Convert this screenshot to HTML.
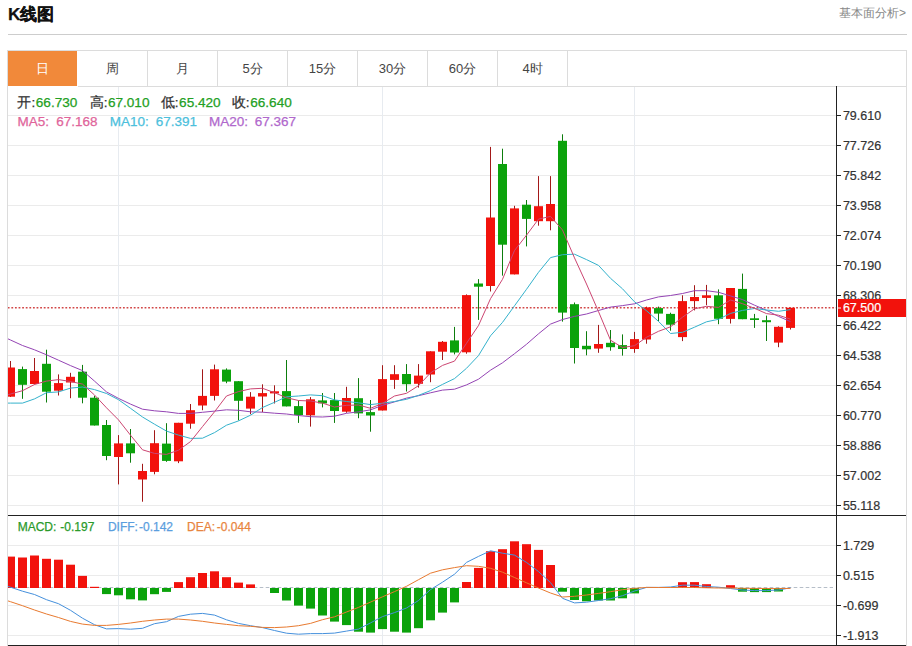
<!DOCTYPE html>
<html><head><meta charset="utf-8"><style>
html,body{margin:0;padding:0;background:#fff;}
body{width:912px;height:646px;position:relative;overflow:hidden;font-family:"Liberation Sans",sans-serif;}
.t{position:absolute;left:8px;top:3px;font-size:17.2px;font-weight:bold;color:#111;line-height:22px;-webkit-text-stroke:0.25px #111;}
.lk{position:absolute;left:839px;top:5px;font-size:12px;color:#888;line-height:16px;white-space:nowrap;}
.ln{position:absolute;background:#dcdcdc;}
.tab{position:absolute;top:51px;height:35px;width:69px;text-align:center;line-height:35px;font-size:13px;color:#444;}
.tab.on{background:#f1893a;color:#fff;width:69px;}
svg{position:absolute;left:0;top:0;}
svg text{font-family:"Liberation Sans",sans-serif;}
.al{font-size:12.5px;fill:#333;stroke:#333;stroke-width:0.2px;}
</style></head><body>
<div class="t">K线图</div>
<div class="lk">基本面分析&gt;</div>
<div class="ln" style="left:8px;top:34px;width:899px;height:1px;background:#cdcdcd"></div>
<div class="ln" style="left:8px;top:50px;width:899px;height:1px"></div>
<div class="ln" style="left:78px;top:86px;width:828px;height:1px"></div>
<div class="ln" style="left:7px;top:50px;width:1px;height:596px"></div>
<div class="ln" style="left:906px;top:50px;width:1px;height:596px"></div>
<div class="tab on" style="left:8px">日</div>
<div class="tab" style="left:78px">周</div>
<div class="ln" style="left:147px;top:51px;width:1px;height:35px"></div>
<div class="tab" style="left:148px">月</div>
<div class="ln" style="left:217px;top:51px;width:1px;height:35px"></div>
<div class="tab" style="left:218px">5分</div>
<div class="ln" style="left:287px;top:51px;width:1px;height:35px"></div>
<div class="tab" style="left:288px">15分</div>
<div class="ln" style="left:357px;top:51px;width:1px;height:35px"></div>
<div class="tab" style="left:358px">30分</div>
<div class="ln" style="left:427px;top:51px;width:1px;height:35px"></div>
<div class="tab" style="left:428px">60分</div>
<div class="ln" style="left:497px;top:51px;width:1px;height:35px"></div>
<div class="tab" style="left:498px">4时</div>
<div class="ln" style="left:567px;top:51px;width:1px;height:35px"></div>
<svg width="912" height="646" viewBox="0 0 912 646">
<defs><clipPath id="cp"><rect x="8" y="87" width="828.5" height="558"/></clipPath></defs>
<g clip-path="url(#cp)">
<line x1="8" y1="115.5" x2="836" y2="115.5" stroke="#ebebeb" stroke-width="1"/>
<line x1="8" y1="145.5" x2="836" y2="145.5" stroke="#ebebeb" stroke-width="1"/>
<line x1="8" y1="175.5" x2="836" y2="175.5" stroke="#ebebeb" stroke-width="1"/>
<line x1="8" y1="205.5" x2="836" y2="205.5" stroke="#ebebeb" stroke-width="1"/>
<line x1="8" y1="235.5" x2="836" y2="235.5" stroke="#ebebeb" stroke-width="1"/>
<line x1="8" y1="265.5" x2="836" y2="265.5" stroke="#ebebeb" stroke-width="1"/>
<line x1="8" y1="295.5" x2="836" y2="295.5" stroke="#ebebeb" stroke-width="1"/>
<line x1="8" y1="325.5" x2="836" y2="325.5" stroke="#ebebeb" stroke-width="1"/>
<line x1="8" y1="355.5" x2="836" y2="355.5" stroke="#ebebeb" stroke-width="1"/>
<line x1="8" y1="385.5" x2="836" y2="385.5" stroke="#ebebeb" stroke-width="1"/>
<line x1="8" y1="415.5" x2="836" y2="415.5" stroke="#ebebeb" stroke-width="1"/>
<line x1="8" y1="445.5" x2="836" y2="445.5" stroke="#ebebeb" stroke-width="1"/>
<line x1="8" y1="475.5" x2="836" y2="475.5" stroke="#ebebeb" stroke-width="1"/>
<line x1="8" y1="505.5" x2="836" y2="505.5" stroke="#ebebeb" stroke-width="1"/>
<line x1="8" y1="545.5" x2="836" y2="545.5" stroke="#ebebeb" stroke-width="1"/>
<line x1="8" y1="575.5" x2="836" y2="575.5" stroke="#ebebeb" stroke-width="1"/>
<line x1="8" y1="605.5" x2="836" y2="605.5" stroke="#ebebeb" stroke-width="1"/>
<line x1="8" y1="635.5" x2="836" y2="635.5" stroke="#ebebeb" stroke-width="1"/>
<line x1="118.5" y1="86" x2="118.5" y2="645" stroke="#e7ebf0" stroke-width="1"/>
<line x1="382.5" y1="86" x2="382.5" y2="645" stroke="#e7ebf0" stroke-width="1"/>
<line x1="634.5" y1="86" x2="634.5" y2="645" stroke="#e7ebf0" stroke-width="1"/>
<line x1="7.76" y1="307.8" x2="836" y2="307.8" stroke="#d24848" stroke-width="1.4" stroke-dasharray="1.8,1.8"/>
<rect x="10.0" y="361.0" width="1" height="36.0" fill="#a31818"/>
<rect x="6.0" y="367.5" width="9" height="29.2" fill="#f2120c"/>
<rect x="22.0" y="366.6" width="1" height="32.2" fill="#0d7d0d"/>
<rect x="18.0" y="369.1" width="9" height="15.7" fill="#0ba20b"/>
<rect x="34.0" y="358.0" width="1" height="26.5" fill="#a31818"/>
<rect x="30.0" y="371.0" width="9" height="13.0" fill="#f2120c"/>
<rect x="46.0" y="349.7" width="1" height="52.8" fill="#0d7d0d"/>
<rect x="42.0" y="363.8" width="9" height="27.9" fill="#0ba20b"/>
<rect x="58.0" y="374.4" width="1" height="21.1" fill="#a31818"/>
<rect x="54.0" y="383.1" width="9" height="7.6" fill="#f2120c"/>
<rect x="70.0" y="372.8" width="1" height="25.4" fill="#a31818"/>
<rect x="66.0" y="376.8" width="9" height="5.7" fill="#f2120c"/>
<rect x="82.0" y="364.9" width="1" height="38.4" fill="#0d7d0d"/>
<rect x="78.0" y="371.7" width="9" height="26.0" fill="#0ba20b"/>
<rect x="94.0" y="395.9" width="1" height="29.6" fill="#0d7d0d"/>
<rect x="90.0" y="397.7" width="9" height="27.8" fill="#0ba20b"/>
<rect x="106.0" y="420.0" width="1" height="40.2" fill="#0d7d0d"/>
<rect x="102.0" y="425.0" width="9" height="31.0" fill="#0ba20b"/>
<rect x="118.0" y="435.1" width="1" height="49.3" fill="#a31818"/>
<rect x="114.0" y="443.4" width="9" height="13.6" fill="#f2120c"/>
<rect x="130.0" y="429.0" width="1" height="33.7" fill="#0d7d0d"/>
<rect x="126.0" y="443.4" width="9" height="9.9" fill="#0ba20b"/>
<rect x="142.0" y="463.8" width="1" height="37.9" fill="#a31818"/>
<rect x="138.0" y="471.0" width="9" height="8.5" fill="#f2120c"/>
<rect x="154.0" y="430.2" width="1" height="44.1" fill="#a31818"/>
<rect x="150.0" y="443.2" width="9" height="28.7" fill="#f2120c"/>
<rect x="166.0" y="423.2" width="1" height="38.6" fill="#0d7d0d"/>
<rect x="162.0" y="443.6" width="9" height="17.3" fill="#0ba20b"/>
<rect x="178.0" y="422.8" width="1" height="40.3" fill="#a31818"/>
<rect x="174.0" y="422.8" width="9" height="38.5" fill="#f2120c"/>
<rect x="190.0" y="404.0" width="1" height="24.7" fill="#a31818"/>
<rect x="186.0" y="410.2" width="9" height="13.5" fill="#f2120c"/>
<rect x="202.0" y="369.3" width="1" height="40.9" fill="#a31818"/>
<rect x="198.0" y="395.9" width="9" height="9.6" fill="#f2120c"/>
<rect x="214.0" y="364.6" width="1" height="35.9" fill="#a31818"/>
<rect x="210.0" y="369.3" width="9" height="26.6" fill="#f2120c"/>
<rect x="226.0" y="368.4" width="1" height="14.8" fill="#0d7d0d"/>
<rect x="222.0" y="369.6" width="9" height="12.0" fill="#0ba20b"/>
<rect x="238.0" y="381.2" width="1" height="39.2" fill="#0d7d0d"/>
<rect x="234.0" y="381.2" width="9" height="19.6" fill="#0ba20b"/>
<rect x="250.0" y="392.1" width="1" height="22.1" fill="#a31818"/>
<rect x="246.0" y="396.7" width="9" height="11.9" fill="#f2120c"/>
<rect x="262.0" y="384.3" width="1" height="27.9" fill="#a31818"/>
<rect x="258.0" y="393.1" width="9" height="3.4" fill="#f2120c"/>
<rect x="274.0" y="385.3" width="1" height="18.2" fill="#a31818"/>
<rect x="270.0" y="391.3" width="9" height="2.1" fill="#f2120c"/>
<rect x="286.0" y="360.0" width="1" height="46.4" fill="#0d7d0d"/>
<rect x="282.0" y="391.1" width="9" height="15.3" fill="#0ba20b"/>
<rect x="298.0" y="400.4" width="1" height="22.5" fill="#0d7d0d"/>
<rect x="294.0" y="406.1" width="9" height="8.9" fill="#0ba20b"/>
<rect x="310.0" y="397.1" width="1" height="29.5" fill="#a31818"/>
<rect x="306.0" y="399.3" width="9" height="16.0" fill="#f2120c"/>
<rect x="322.0" y="393.0" width="1" height="14.4" fill="#0d7d0d"/>
<rect x="318.0" y="400.4" width="9" height="3.0" fill="#0ba20b"/>
<rect x="334.0" y="393.0" width="1" height="29.9" fill="#0d7d0d"/>
<rect x="330.0" y="400.1" width="9" height="10.9" fill="#0ba20b"/>
<rect x="346.0" y="386.8" width="1" height="26.0" fill="#a31818"/>
<rect x="342.0" y="398.0" width="9" height="13.7" fill="#f2120c"/>
<rect x="358.0" y="378.1" width="1" height="40.1" fill="#0d7d0d"/>
<rect x="354.0" y="398.2" width="9" height="15.2" fill="#0ba20b"/>
<rect x="370.0" y="400.0" width="1" height="31.7" fill="#0d7d0d"/>
<rect x="366.0" y="412.1" width="9" height="3.4" fill="#0ba20b"/>
<rect x="382.0" y="365.2" width="1" height="45.3" fill="#a31818"/>
<rect x="378.0" y="379.1" width="9" height="31.4" fill="#f2120c"/>
<rect x="394.0" y="365.2" width="1" height="23.7" fill="#a31818"/>
<rect x="390.0" y="374.2" width="9" height="5.7" fill="#f2120c"/>
<rect x="406.0" y="364.1" width="1" height="27.4" fill="#0d7d0d"/>
<rect x="402.0" y="374.0" width="9" height="10.2" fill="#0ba20b"/>
<rect x="418.0" y="364.1" width="1" height="23.5" fill="#a31818"/>
<rect x="414.0" y="375.6" width="9" height="8.2" fill="#f2120c"/>
<rect x="430.0" y="351.3" width="1" height="30.9" fill="#a31818"/>
<rect x="426.0" y="351.3" width="9" height="23.2" fill="#f2120c"/>
<rect x="442.0" y="341.0" width="1" height="19.0" fill="#a31818"/>
<rect x="438.0" y="341.8" width="9" height="9.9" fill="#f2120c"/>
<rect x="454.0" y="326.9" width="1" height="27.5" fill="#0d7d0d"/>
<rect x="450.0" y="340.4" width="9" height="12.1" fill="#0ba20b"/>
<rect x="466.0" y="294.4" width="1" height="59.3" fill="#a31818"/>
<rect x="462.0" y="295.1" width="9" height="57.2" fill="#f2120c"/>
<rect x="478.0" y="279.1" width="1" height="40.8" fill="#0d7d0d"/>
<rect x="474.0" y="283.5" width="9" height="3.2" fill="#0ba20b"/>
<rect x="490.0" y="146.9" width="1" height="144.6" fill="#a31818"/>
<rect x="486.0" y="217.5" width="9" height="68.5" fill="#f2120c"/>
<rect x="502.0" y="148.7" width="1" height="126.9" fill="#0d7d0d"/>
<rect x="498.0" y="164.0" width="9" height="80.7" fill="#0ba20b"/>
<rect x="514.0" y="205.8" width="1" height="68.6" fill="#a31818"/>
<rect x="510.0" y="208.4" width="9" height="66.0" fill="#f2120c"/>
<rect x="526.0" y="200.0" width="1" height="46.4" fill="#0d7d0d"/>
<rect x="522.0" y="204.7" width="9" height="14.2" fill="#0ba20b"/>
<rect x="538.0" y="176.1" width="1" height="49.6" fill="#a31818"/>
<rect x="534.0" y="206.2" width="9" height="15.0" fill="#f2120c"/>
<rect x="550.0" y="176.1" width="1" height="54.2" fill="#a31818"/>
<rect x="546.0" y="204.0" width="9" height="17.2" fill="#f2120c"/>
<rect x="562.0" y="134.3" width="1" height="187.3" fill="#0d7d0d"/>
<rect x="558.0" y="140.8" width="9" height="171.8" fill="#0ba20b"/>
<rect x="574.0" y="302.5" width="1" height="61.0" fill="#0d7d0d"/>
<rect x="570.0" y="304.2" width="9" height="43.8" fill="#0ba20b"/>
<rect x="586.0" y="331.2" width="1" height="24.1" fill="#0d7d0d"/>
<rect x="582.0" y="345.8" width="9" height="3.5" fill="#0ba20b"/>
<rect x="598.0" y="324.9" width="1" height="27.9" fill="#a31818"/>
<rect x="594.0" y="344.0" width="9" height="4.6" fill="#f2120c"/>
<rect x="610.0" y="330.0" width="1" height="20.7" fill="#0d7d0d"/>
<rect x="606.0" y="342.8" width="9" height="4.4" fill="#0ba20b"/>
<rect x="622.0" y="334.4" width="1" height="21.2" fill="#0d7d0d"/>
<rect x="618.0" y="345.1" width="9" height="3.9" fill="#0ba20b"/>
<rect x="634.0" y="331.9" width="1" height="20.9" fill="#a31818"/>
<rect x="630.0" y="339.1" width="9" height="9.9" fill="#f2120c"/>
<rect x="646.0" y="306.6" width="1" height="37.1" fill="#a31818"/>
<rect x="642.0" y="307.4" width="9" height="32.1" fill="#f2120c"/>
<rect x="658.0" y="306.6" width="1" height="14.6" fill="#0d7d0d"/>
<rect x="654.0" y="308.1" width="9" height="5.5" fill="#0ba20b"/>
<rect x="670.0" y="312.7" width="1" height="18.0" fill="#0d7d0d"/>
<rect x="666.0" y="313.9" width="9" height="10.8" fill="#0ba20b"/>
<rect x="682.0" y="295.3" width="1" height="45.8" fill="#a31818"/>
<rect x="678.0" y="301.1" width="9" height="36.0" fill="#f2120c"/>
<rect x="694.0" y="285.2" width="1" height="25.2" fill="#a31818"/>
<rect x="690.0" y="297.0" width="9" height="4.1" fill="#f2120c"/>
<rect x="706.0" y="284.9" width="1" height="20.3" fill="#a31818"/>
<rect x="702.0" y="295.3" width="9" height="2.6" fill="#f2120c"/>
<rect x="718.0" y="289.4" width="1" height="34.8" fill="#0d7d0d"/>
<rect x="714.0" y="295.3" width="9" height="23.5" fill="#0ba20b"/>
<rect x="730.0" y="288.0" width="1" height="35.5" fill="#a31818"/>
<rect x="726.0" y="288.0" width="9" height="30.9" fill="#f2120c"/>
<rect x="742.0" y="273.6" width="1" height="45.6" fill="#0d7d0d"/>
<rect x="738.0" y="288.9" width="9" height="30.3" fill="#0ba20b"/>
<rect x="754.0" y="313.9" width="1" height="14.0" fill="#0d7d0d"/>
<rect x="750.0" y="318.3" width="9" height="1.7" fill="#0ba20b"/>
<rect x="766.0" y="315.6" width="1" height="25.4" fill="#0d7d0d"/>
<rect x="762.0" y="320.2" width="9" height="2.0" fill="#0ba20b"/>
<rect x="778.0" y="326.2" width="1" height="21.0" fill="#a31818"/>
<rect x="774.0" y="326.8" width="9" height="15.8" fill="#f2120c"/>
<rect x="790.0" y="307.8" width="1" height="21.7" fill="#a31818"/>
<rect x="786.0" y="307.8" width="9" height="20.1" fill="#f2120c"/>
<polyline points="-1.5,334.5 10.5,340.0 22.5,345.5 34.5,349.8 46.5,354.8 58.5,360.2 70.5,365.6 82.5,370.6 94.5,381.1 106.5,391.9 118.5,398.4 130.5,404.1 142.5,409.2 154.5,410.8 166.5,411.8 178.5,413.4 190.5,413.4 202.5,412.3 214.5,411.1 226.5,409.8 238.5,410.3 250.5,411.8 262.5,412.2 274.5,413.2 286.5,414.0 298.5,415.5 310.5,416.7 322.5,417.0 334.5,416.2 346.5,413.3 358.5,411.8 370.5,409.9 382.5,405.3 394.5,401.9 406.5,398.1 418.5,395.7 430.5,392.8 442.5,390.1 454.5,389.2 466.5,384.9 478.5,379.2 490.5,370.2 502.5,362.8 514.5,353.7 526.5,344.3 538.5,333.8 550.5,324.1 562.5,319.5 574.5,316.4 586.5,314.0 598.5,310.5 610.5,307.1 622.5,305.6 634.5,303.8 646.5,300.0 658.5,296.9 670.5,295.5 682.5,293.5 694.5,290.7 706.5,290.7 718.5,292.3 730.5,295.9 742.5,299.6 754.5,305.2 766.5,310.3 778.5,316.4 790.5,321.6" fill="none" stroke="#9444b4" stroke-width="1.0" stroke-linejoin="round"/>
<polyline points="-1.5,403.1 10.5,403.1 22.5,403.1 34.5,398.9 46.5,392.7 58.5,391.9 70.5,388.1 82.5,387.0 94.5,389.6 106.5,393.5 118.5,399.7 130.5,408.3 142.5,417.0 154.5,424.2 166.5,431.1 178.5,435.1 190.5,438.4 202.5,438.2 214.5,432.6 226.5,425.2 238.5,420.9 250.5,415.2 262.5,407.5 274.5,402.3 286.5,396.8 298.5,396.0 310.5,394.9 322.5,395.7 334.5,399.9 346.5,401.5 358.5,402.8 370.5,404.6 382.5,403.2 394.5,401.5 406.5,399.3 418.5,395.4 430.5,390.6 442.5,384.4 454.5,378.6 466.5,368.3 478.5,355.6 490.5,335.8 502.5,322.4 514.5,305.8 526.5,289.3 538.5,272.3 550.5,257.6 562.5,254.7 574.5,254.2 586.5,259.6 598.5,265.4 610.5,278.3 622.5,288.8 634.5,301.8 646.5,310.7 658.5,321.4 670.5,333.5 682.5,332.3 694.5,327.2 706.5,321.8 718.5,319.3 730.5,313.4 742.5,310.4 754.5,308.5 766.5,310.0 778.5,311.3 790.5,309.6" fill="none" stroke="#34b2cc" stroke-width="1.0" stroke-linejoin="round"/>
<polyline points="-1.5,397.3 10.5,394.0 22.5,390.7 34.5,384.5 46.5,381.1 58.5,379.6 70.5,381.5 82.5,384.1 94.5,395.0 106.5,407.8 118.5,419.9 130.5,435.2 142.5,449.8 154.5,453.4 166.5,454.4 178.5,450.2 190.5,441.6 202.5,426.6 214.5,411.8 226.5,396.0 238.5,391.6 250.5,388.9 262.5,388.3 274.5,392.7 286.5,397.7 298.5,400.5 310.5,401.0 322.5,403.1 334.5,407.0 346.5,405.3 358.5,405.0 370.5,408.3 382.5,403.4 394.5,396.0 406.5,393.3 418.5,385.7 430.5,372.9 442.5,365.4 454.5,361.1 466.5,343.3 478.5,325.5 490.5,298.7 502.5,279.3 514.5,250.5 526.5,235.2 538.5,219.1 550.5,216.4 562.5,230.0 574.5,257.9 586.5,284.0 598.5,311.6 610.5,340.2 622.5,347.5 634.5,345.7 646.5,337.3 658.5,331.3 670.5,326.8 682.5,317.2 694.5,308.8 706.5,306.3 718.5,307.4 730.5,300.0 742.5,303.7 754.5,308.3 766.5,313.6 778.5,315.2 790.5,319.2" fill="none" stroke="#cc4672" stroke-width="1.0" stroke-linejoin="round"/>
<line x1="7.7" y1="587.5" x2="833" y2="587.5" stroke="#b6bec8" stroke-width="1" stroke-dasharray="3.6,2.4"/>
<rect x="6.0" y="556.6" width="9" height="31.4" fill="#f2120c"/>
<rect x="18.0" y="557.5" width="9" height="30.5" fill="#f2120c"/>
<rect x="30.0" y="555.5" width="9" height="32.5" fill="#f2120c"/>
<rect x="42.0" y="558.8" width="9" height="29.2" fill="#f2120c"/>
<rect x="54.0" y="559.7" width="9" height="28.3" fill="#f2120c"/>
<rect x="66.0" y="564.7" width="9" height="23.3" fill="#f2120c"/>
<rect x="78.0" y="575.9" width="9" height="12.1" fill="#f2120c"/>
<rect x="90.0" y="586.8" width="9" height="1.2" fill="#f2120c"/>
<rect x="102.0" y="588" width="9" height="6.1" fill="#0ba20b"/>
<rect x="114.0" y="588" width="9" height="7.3" fill="#0ba20b"/>
<rect x="126.0" y="588" width="9" height="11.3" fill="#0ba20b"/>
<rect x="138.0" y="588" width="9" height="12.4" fill="#0ba20b"/>
<rect x="150.0" y="588" width="9" height="6.2" fill="#0ba20b"/>
<rect x="162.0" y="588" width="9" height="3.9" fill="#0ba20b"/>
<rect x="174.0" y="582.1" width="9" height="5.9" fill="#f2120c"/>
<rect x="186.0" y="577.2" width="9" height="10.8" fill="#f2120c"/>
<rect x="198.0" y="573.0" width="9" height="15.0" fill="#f2120c"/>
<rect x="210.0" y="571.3" width="9" height="16.7" fill="#f2120c"/>
<rect x="222.0" y="577.2" width="9" height="10.8" fill="#f2120c"/>
<rect x="234.0" y="582.6" width="9" height="5.4" fill="#f2120c"/>
<rect x="246.0" y="584.4" width="9" height="3.6" fill="#f2120c"/>
<rect x="270.0" y="588" width="9" height="5.0" fill="#0ba20b"/>
<rect x="282.0" y="588" width="9" height="12.5" fill="#0ba20b"/>
<rect x="294.0" y="588" width="9" height="17.6" fill="#0ba20b"/>
<rect x="306.0" y="588" width="9" height="20.6" fill="#0ba20b"/>
<rect x="318.0" y="588" width="9" height="27.5" fill="#0ba20b"/>
<rect x="330.0" y="588" width="9" height="33.6" fill="#0ba20b"/>
<rect x="342.0" y="588" width="9" height="37.1" fill="#0ba20b"/>
<rect x="354.0" y="588" width="9" height="43.7" fill="#0ba20b"/>
<rect x="366.0" y="588" width="9" height="44.6" fill="#0ba20b"/>
<rect x="378.0" y="588" width="9" height="41.1" fill="#0ba20b"/>
<rect x="390.0" y="588" width="9" height="43.7" fill="#0ba20b"/>
<rect x="402.0" y="588" width="9" height="44.6" fill="#0ba20b"/>
<rect x="414.0" y="588" width="9" height="40.2" fill="#0ba20b"/>
<rect x="426.0" y="588" width="9" height="32.3" fill="#0ba20b"/>
<rect x="438.0" y="588" width="9" height="24.6" fill="#0ba20b"/>
<rect x="450.0" y="588" width="9" height="14.4" fill="#0ba20b"/>
<rect x="462.0" y="582.0" width="9" height="6.0" fill="#f2120c"/>
<rect x="474.0" y="567.9" width="9" height="20.1" fill="#f2120c"/>
<rect x="486.0" y="551.2" width="9" height="36.8" fill="#f2120c"/>
<rect x="498.0" y="549.2" width="9" height="38.8" fill="#f2120c"/>
<rect x="510.0" y="541.3" width="9" height="46.7" fill="#f2120c"/>
<rect x="522.0" y="544.2" width="9" height="43.8" fill="#f2120c"/>
<rect x="534.0" y="549.9" width="9" height="38.1" fill="#f2120c"/>
<rect x="546.0" y="565.0" width="9" height="23.0" fill="#f2120c"/>
<rect x="558.0" y="588" width="9" height="3.7" fill="#0ba20b"/>
<rect x="570.0" y="588" width="9" height="12.0" fill="#0ba20b"/>
<rect x="582.0" y="588" width="9" height="13.3" fill="#0ba20b"/>
<rect x="594.0" y="588" width="9" height="12.5" fill="#0ba20b"/>
<rect x="606.0" y="588" width="9" height="12.5" fill="#0ba20b"/>
<rect x="618.0" y="588" width="9" height="10.3" fill="#0ba20b"/>
<rect x="630.0" y="588" width="9" height="5.4" fill="#0ba20b"/>
<rect x="678.0" y="582.2" width="9" height="5.8" fill="#f2120c"/>
<rect x="690.0" y="582.1" width="9" height="5.9" fill="#f2120c"/>
<rect x="702.0" y="584.2" width="9" height="3.8" fill="#f2120c"/>
<rect x="726.0" y="585.2" width="9" height="2.8" fill="#f2120c"/>
<rect x="738.0" y="588" width="9" height="3.7" fill="#0ba20b"/>
<rect x="750.0" y="588" width="9" height="4.1" fill="#0ba20b"/>
<rect x="762.0" y="588" width="9" height="4.1" fill="#0ba20b"/>
<rect x="774.0" y="588" width="9" height="3.5" fill="#0ba20b"/>
<polyline points="-1.5,583.5 10.5,587.2 22.5,591.2 34.5,594.5 46.5,599.7 58.5,603.7 70.5,610.3 82.5,618.2 94.5,624.7 106.5,628.9 118.5,628.6 130.5,629.2 142.5,628.3 154.5,623.7 166.5,621.7 178.5,616.4 190.5,614.2 202.5,613.4 214.5,615.1 226.5,619.8 238.5,623.4 250.5,625.7 262.5,627.6 274.5,630.5 286.5,633.2 298.5,634.2 310.5,633.6 322.5,633.6 334.5,633.1 346.5,631.1 358.5,629.1 370.5,622.9 382.5,616.6 394.5,612.6 406.5,608.0 418.5,600.5 430.5,589.6 442.5,582.2 454.5,574.2 466.5,562.4 478.5,556.4 490.5,550.8 502.5,553.2 514.5,555.1 526.5,562.4 538.5,571.6 550.5,582.6 562.5,598.3 574.5,602.9 586.5,602.2 598.5,600.5 610.5,598.7 622.5,595.7 634.5,591.0 646.5,587.4 658.5,587.4 670.5,587.0 682.5,585.2 694.5,585.2 706.5,586.5 718.5,587.2 730.5,588.5 742.5,590.0 754.5,590.6 766.5,590.6 778.5,590.0 790.5,587.8" fill="none" stroke="#4590dc" stroke-width="1.0" stroke-linejoin="round"/>
<polyline points="-1.5,598.0 10.5,601.7 22.5,605.7 34.5,610.0 46.5,614.0 58.5,617.5 70.5,621.4 82.5,624.1 94.5,625.4 106.5,625.4 118.5,624.4 130.5,623.0 142.5,621.3 154.5,620.0 166.5,619.1 178.5,619.1 190.5,620.0 202.5,621.3 214.5,623.0 226.5,624.4 238.5,625.7 250.5,626.3 262.5,627.4 274.5,627.6 286.5,627.0 298.5,625.7 310.5,623.4 322.5,619.7 334.5,616.8 346.5,612.0 358.5,607.4 370.5,602.1 382.5,596.8 394.5,591.6 406.5,586.3 418.5,579.7 430.5,573.2 442.5,569.8 454.5,567.6 466.5,565.7 478.5,566.3 490.5,568.3 502.5,572.2 514.5,577.5 526.5,582.8 538.5,588.0 550.5,593.0 562.5,597.0 574.5,596.3 586.5,595.0 598.5,593.4 610.5,591.7 622.5,589.7 634.5,588.4 646.5,587.4 658.5,587.5 670.5,587.5 682.5,587.5 694.5,587.5 706.5,587.8 718.5,588.0 730.5,588.0 742.5,588.3 754.5,588.4 766.5,588.5 778.5,588.6 790.5,588.4" fill="none" stroke="#e87a30" stroke-width="1.0" stroke-linejoin="round"/>
</g>
<line x1="836.5" y1="86" x2="836.5" y2="645" stroke="#222" stroke-width="1"/>
<line x1="837" y1="115.5" x2="841" y2="115.5" stroke="#222" stroke-width="1"/>
<text x="842.9" y="119.8" class="al">79.610</text>
<line x1="837" y1="145.5" x2="841" y2="145.5" stroke="#222" stroke-width="1"/>
<text x="842.9" y="149.8" class="al">77.726</text>
<line x1="837" y1="175.5" x2="841" y2="175.5" stroke="#222" stroke-width="1"/>
<text x="842.9" y="179.8" class="al">75.842</text>
<line x1="837" y1="205.5" x2="841" y2="205.5" stroke="#222" stroke-width="1"/>
<text x="842.9" y="209.8" class="al">73.958</text>
<line x1="837" y1="235.5" x2="841" y2="235.5" stroke="#222" stroke-width="1"/>
<text x="842.9" y="239.8" class="al">72.074</text>
<line x1="837" y1="265.5" x2="841" y2="265.5" stroke="#222" stroke-width="1"/>
<text x="842.9" y="269.8" class="al">70.190</text>
<line x1="837" y1="295.5" x2="841" y2="295.5" stroke="#222" stroke-width="1"/>
<text x="842.9" y="299.8" class="al">68.306</text>
<line x1="837" y1="325.5" x2="841" y2="325.5" stroke="#222" stroke-width="1"/>
<text x="842.9" y="329.8" class="al">66.422</text>
<line x1="837" y1="355.5" x2="841" y2="355.5" stroke="#222" stroke-width="1"/>
<text x="842.9" y="359.8" class="al">64.538</text>
<line x1="837" y1="385.5" x2="841" y2="385.5" stroke="#222" stroke-width="1"/>
<text x="842.9" y="389.8" class="al">62.654</text>
<line x1="837" y1="415.5" x2="841" y2="415.5" stroke="#222" stroke-width="1"/>
<text x="842.9" y="419.8" class="al">60.770</text>
<line x1="837" y1="445.5" x2="841" y2="445.5" stroke="#222" stroke-width="1"/>
<text x="842.9" y="449.8" class="al">58.886</text>
<line x1="837" y1="475.5" x2="841" y2="475.5" stroke="#222" stroke-width="1"/>
<text x="842.9" y="479.8" class="al">57.002</text>
<line x1="837" y1="505.5" x2="841" y2="505.5" stroke="#222" stroke-width="1"/>
<text x="842.9" y="509.8" class="al">55.118</text>
<line x1="837" y1="545.5" x2="841" y2="545.5" stroke="#222" stroke-width="1"/>
<text x="842.9" y="549.8" class="al">1.729</text>
<line x1="837" y1="575.5" x2="841" y2="575.5" stroke="#222" stroke-width="1"/>
<text x="842.9" y="579.8" class="al">0.515</text>
<line x1="837" y1="605.5" x2="841" y2="605.5" stroke="#222" stroke-width="1"/>
<text x="842.9" y="609.8" class="al">-0.699</text>
<line x1="837" y1="635.5" x2="841" y2="635.5" stroke="#222" stroke-width="1"/>
<text x="842.9" y="639.8" class="al">-1.913</text>
<line x1="8" y1="515.5" x2="906" y2="515.5" stroke="#222" stroke-width="1"/>
<line x1="8" y1="645.5" x2="906" y2="645.5" stroke="#222" stroke-width="1"/>
<rect x="838" y="299" width="68" height="18" fill="#f2120c"/>
<line x1="837" y1="308" x2="841" y2="308" stroke="#fff" stroke-width="1"/>
<text x="842.9" y="312.3" class="al" fill="#fff" style="fill:#fff;stroke:#fff">67.500</text>
<text x="17.4" y="107" fill="#333" stroke="#333" stroke-width="0.25" font-size="13.6" >开:</text>
<text x="35.8" y="107" fill="#23a023" stroke="#23a023" stroke-width="0.25" font-size="13.6" >66.730</text>
<text x="89.8" y="107" fill="#333" stroke="#333" stroke-width="0.25" font-size="13.6" >高:</text>
<text x="107.9" y="107" fill="#23a023" stroke="#23a023" stroke-width="0.25" font-size="13.6" >67.010</text>
<text x="160.7" y="107" fill="#333" stroke="#333" stroke-width="0.25" font-size="13.6" >低:</text>
<text x="179.1" y="107" fill="#23a023" stroke="#23a023" stroke-width="0.25" font-size="13.6" >65.420</text>
<text x="231.7" y="107" fill="#333" stroke="#333" stroke-width="0.25" font-size="13.6" >收:</text>
<text x="250.2" y="107" fill="#23a023" stroke="#23a023" stroke-width="0.25" font-size="13.6" >66.640</text>
<text x="17.6" y="125.5" fill="#e0649a" stroke="#e0649a" stroke-width="0.25" font-size="13.5" >MA5:</text>
<text x="56.3" y="125.5" fill="#e0649a" stroke="#e0649a" stroke-width="0.25" font-size="13.5" >67.168</text>
<text x="109.7" y="125.5" fill="#4cc0dc" stroke="#4cc0dc" stroke-width="0.25" font-size="13.5" >MA10:</text>
<text x="155.8" y="125.5" fill="#4cc0dc" stroke="#4cc0dc" stroke-width="0.25" font-size="13.5" >67.391</text>
<text x="209" y="125.5" fill="#b068cc" stroke="#b068cc" stroke-width="0.25" font-size="13.5" >MA20:</text>
<text x="254.8" y="125.5" fill="#b068cc" stroke="#b068cc" stroke-width="0.25" font-size="13.5" >67.367</text>
<text x="17.7" y="530.5" fill="#2a9a2a" stroke="#2a9a2a" stroke-width="0.25" font-size="12" >MACD:</text>
<text x="60.3" y="530.5" fill="#2a9a2a" stroke="#2a9a2a" stroke-width="0.25" font-size="12" >-0.197</text>
<text x="107.9" y="530.5" fill="#5a9ede" stroke="#5a9ede" stroke-width="0.25" font-size="12" >DIFF:</text>
<text x="139" y="530.5" fill="#5a9ede" stroke="#5a9ede" stroke-width="0.25" font-size="12" >-0.142</text>
<text x="187" y="530.5" fill="#e8853e" stroke="#e8853e" stroke-width="0.25" font-size="12" >DEA:</text>
<text x="216.8" y="530.5" fill="#e8853e" stroke="#e8853e" stroke-width="0.25" font-size="12" >-0.044</text>
</svg>
</body></html>
